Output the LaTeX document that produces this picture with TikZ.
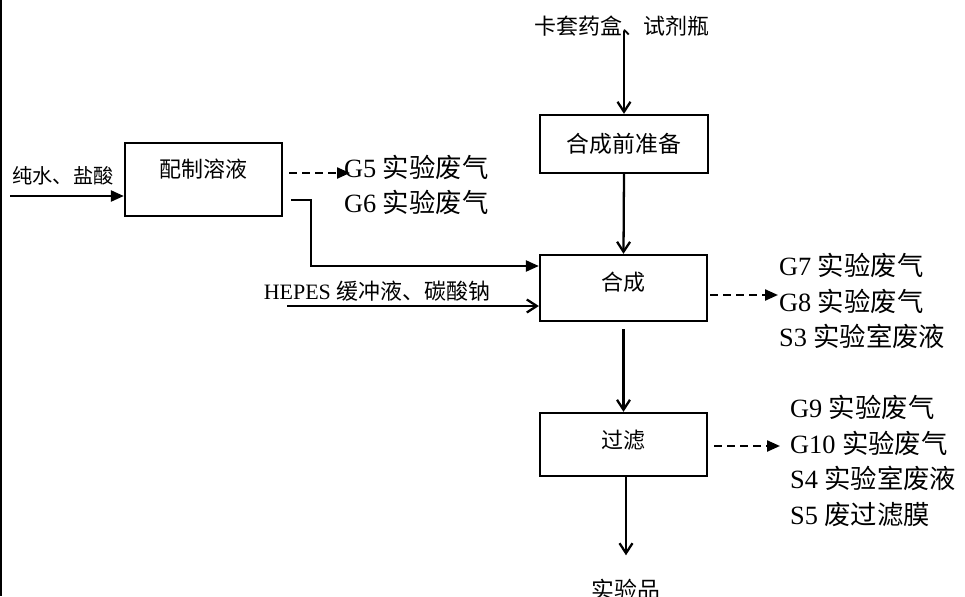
\documentclass[tikz,border=0pt]{standalone}
\usepackage{fontspec}
\setmainfont{Liberation Serif}
\newfontfamily\cjk{Noto Sans CJK SC}
\usepackage{tikz}
\usetikzlibrary{arrows.meta, calc}
\newcommand{\zh}[1]{{\cjk #1}}
\newcommand{\lift}[2]{\raisebox{#1}[\height][\depth]{#2}}

\begin{document}
\begin{tikzpicture}[x=0.02cm, y=-0.02cm, line width=1.3pt,
    every node/.style={font=\fontsize{12.5}{15}\selectfont\cjk},
    box/.style={draw, minimum width=3.34cm, inner sep=0pt},
    flow/.style={-{Triangle[length=0.26cm, width=0.22cm]}},
    feed/.style={-{Straight Barb[length=0.2cm, width=0.26cm]}},
    gas/.style={dash pattern=on 0.16cm off 0.1cm, -{Triangle[length=0.26cm, width=0.22cm]}},
    waste/.style={anchor=west, align=left, inner sep=0pt, font=\fontsize{15}{20.4}\selectfont}]
  \useasboundingbox (0,0) rectangle (965,596);
  \draw (1,0) -- (1,596);

  % process boxes
  \node[box, minimum width=3.14cm, minimum height=1.46cm] (mix)  at (203.5,179.5) {\lift{0.2cm}{配制溶液}};
  \node[box, minimum width=3.36cm, minimum height=1.16cm, font=\fontsize{13}{15}\selectfont\cjk] (prep) at (624,144) {合成前准备};
  \node[box, minimum height=1.32cm]                       (syn)  at (623.5,288)   {\lift{0.12cm}{合成}};
  \node[box, minimum height=1.26cm]                       (filt) at (623.5,444.5) {\lift{0.09cm}{过滤}};

  % inputs and product
  \node[inner sep=0pt] (kit) at (622,26) {卡套药盒、试剂瓶};
  \node[font=\fontsize{11.5}{14}\selectfont\cjk] (water) at (63,176) {纯水、盐酸};
  \node[font=\fontsize{12.5}{15}\selectfont] (buf) at (377,291) {HEPES \zh{缓冲液、碳酸钠}};
  \node[font=\fontsize{13}{15}\selectfont\cjk, inner sep=0pt] (prod) at (626,590) {实验品};

  % waste streams
  \node[waste] (w56)  at (343,185) {G5 \zh{实验废气}\\G6 \zh{实验废气}};
  \node[waste] (w78)  at (778,301) {G7 \zh{实验废气}\\G8 \zh{实验废气}\\S3 \zh{实验室废液}};
  \node[waste] (w910) at (789,461) {G9 \zh{实验废气}\\G10 \zh{实验废气}\\S4 \zh{实验室废液}\\S5 \zh{废过滤膜}};

  \coordinate (w0) at (10,196);
  \coordinate (h0) at (287,306);
  \coordinate (g1) at (350,173);
  \coordinate (g2) at (778,295);
  \coordinate (g3) at (780,446);

  % flows
  \draw[flow] (w0) -- (w0 -| mix.west);
  \draw[feed, shorten <=0.1cm] (kit.center -| prep.north) -- (prep.north);
  \draw[feed] (prep.south) -- (syn.north);
  \draw[feed, shorten <=0.14cm] (syn.south) -- (filt.north);
  \draw[feed, shorten >=0.46cm] (filt.south -| prod.north) -- (prod.north);
  \draw[flow] ($(mix.south east)+(8,-17)$) -- ++(20,0) |- ($(syn.west)+(0,-22)$);
  \draw[feed] (h0) -- (h0 -| syn.west);
  \draw[gas, shorten <=0.12cm] (mix.east |- g1) -- (g1);
  \draw[gas, shorten <=0.04cm] (syn.east |- g2) -- (g2);
  \draw[gas, shorten <=0.12cm] (filt.east |- g3) -- (g3);
\end{tikzpicture}
\end{document}
